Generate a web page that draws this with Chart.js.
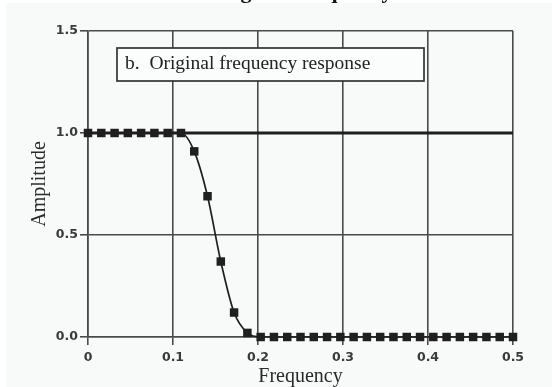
<!DOCTYPE html>
<html>
<head>
<meta charset="utf-8">
<script src="https://cdn.jsdelivr.net/npm/chart.js@4.4.1/dist/chart.umd.min.js"></script>
<style>
  html, body { margin: 0; padding: 0; background: #ffffff; }
  #wrap { width: 552px; height: 387px; position: relative; }
</style>
</head>
<body>
<div id="wrap"><canvas id="c" width="552" height="387"></canvas></div>
<script>
// ---- data ----
const frequency = [
  0.000, 0.015625, 0.03125, 0.046875, 0.0625, 0.078125, 0.09375, 0.109375,
  0.125, 0.140625, 0.15625, 0.171875, 0.1875, 0.203125, 0.21875, 0.234375,
  0.25, 0.265625, 0.28125, 0.296875, 0.3125, 0.328125, 0.34375, 0.359375,
  0.375, 0.390625, 0.40625, 0.421875, 0.4375, 0.453125, 0.46875, 0.484375, 0.5
];
const amplitude = [
  1.0, 1.0, 1.0, 1.0, 1.0, 1.0, 1.0, 1.0,
  0.91, 0.69, 0.37, 0.12, 0.02, 0.0, 0.0, 0.0,
  0.0, 0.0, 0.0, 0.0, 0.0, 0.0, 0.0, 0.0,
  0.0, 0.0, 0.0, 0.0, 0.0, 0.0, 0.0, 0.0, 0.0
];
const flatFrequency = [0.0, 0.5];
const flatAmplitude = [1.0, 1.0];

const xTickValues = [0, 0.1, 0.2, 0.3, 0.4, 0.5];
const xTickLabels = ['0', '0.1', '0.2', '0.3', '0.4', '0.5'];
const yTickValues = [0, 0.5, 1.0, 1.5];
const yTickLabels = ['0.0', '0.5', '1.0', '1.5'];

const headingText = 'Original Frequency';
const panelLabel = 'b.  Original frequency response';
const xTitle = 'Frequency';
const yTitle = 'Amplitude';

// ---- styling ----
const gridColor = '#4a4a4a';
const inkColor = '#1f1f1f';
const tickFont = { family: 'DejaVu Sans', size: 12.5, weight: 'bold' };
const titleFont = { family: 'Liberation Serif', size: 20, lineHeight: 1 };

const decorPlugin = {
  id: 'decor',
  beforeDraw(chart) {
    const ctx = chart.ctx;
    ctx.save();
    ctx.fillStyle = '#ffffff';
    ctx.fillRect(0, 0, chart.width, chart.height);
    ctx.fillStyle = '#f8f9f9';
    ctx.fillRect(6, 3, chart.width - 6, chart.height - 3);
    // heading (mostly cut off at the top)
    ctx.fillStyle = '#111';
    ctx.font = 'bold 22px "Liberation Serif"';
    ctx.textAlign = 'center';
    ctx.textBaseline = 'alphabetic';
    ctx.fillText(headingText, 300, -2);
    ctx.restore();
  },
  afterDraw(chart) {
    const ctx = chart.ctx;
    const a = chart.chartArea;
    const bx = a.left + 29, by = a.top + 17, bw = 307, bh = 33;
    ctx.save();
    ctx.fillStyle = '#fbfcfc';
    ctx.fillRect(bx, by, bw, bh);
    ctx.strokeStyle = '#333333';
    ctx.lineWidth = 1.7;
    ctx.strokeRect(bx, by, bw, bh);
    ctx.fillStyle = '#222222';
    ctx.font = '19.5px "Liberation Serif"';
    ctx.textAlign = 'left';
    ctx.textBaseline = 'alphabetic';
    ctx.fillText(panelLabel, bx + 8, by + 21);
    ctx.restore();
  }
};

new Chart(document.getElementById('c'), {
  type: 'line',
  data: {
    datasets: [
      {
        label: 'Response',
        data: frequency.map((f, i) => ({ x: f, y: amplitude[i] })),
        borderColor: inkColor,
        borderWidth: 1.7,
        cubicInterpolationMode: 'monotone',
        pointStyle: 'rect',
        pointRadius: 6,
        pointBackgroundColor: inkColor,
        pointBorderWidth: 0,
        clip: false
      },
      {
        label: 'Flat',
        data: flatFrequency.map((f, i) => ({ x: f, y: flatAmplitude[i] })),
        borderColor: inkColor,
        borderWidth: 3,
        pointRadius: 0,
        clip: false
      }
    ]
  },
  options: {
    responsive: false,
    animation: false,
    devicePixelRatio: 1,
    layout: { padding: { top: 31, right: 39, left: 0, bottom: 0 } },
    plugins: { legend: { display: false }, tooltip: { enabled: false }, title: { display: false } },
    scales: {
      x: {
        type: 'linear',
        min: 0, max: 0.5,
        afterBuildTicks: (s) => { s.ticks = xTickValues.map(v => ({ value: v })); },
        afterFit: (s) => { s.height = 50; },
        ticks: {
          color: '#3a3a3a', font: tickFont, padding: 5, maxRotation: 0,
          callback: (v, i) => xTickLabels[i]
        },
        grid: { color: gridColor, lineWidth: 1.6, tickLength: 8, drawTicks: true },
        border: { display: true, color: gridColor, width: 1.6 },
        title: { display: true, text: xTitle, color: '#2a2a2a', font: titleFont, padding: { top: 0, bottom: 0 } }
      },
      y: {
        type: 'linear',
        min: 0, max: 1.5,
        afterBuildTicks: (s) => { s.ticks = yTickValues.map(v => ({ value: v })); },
        afterFit: (s) => { s.width = 88; },
        ticks: {
          color: '#3a3a3a', font: tickFont, padding: 2,
          callback: (v, i) => yTickLabels[i]
        },
        grid: { color: gridColor, lineWidth: 1.6, tickLength: 8, drawTicks: true },
        border: { display: true, color: gridColor, width: 1.6 },
        title: { display: true, text: yTitle, color: '#2a2a2a', font: titleFont, padding: { top: 30, bottom: 0 } }
      }
    }
  },
  plugins: [decorPlugin]
});
</script>
</body>
</html>
